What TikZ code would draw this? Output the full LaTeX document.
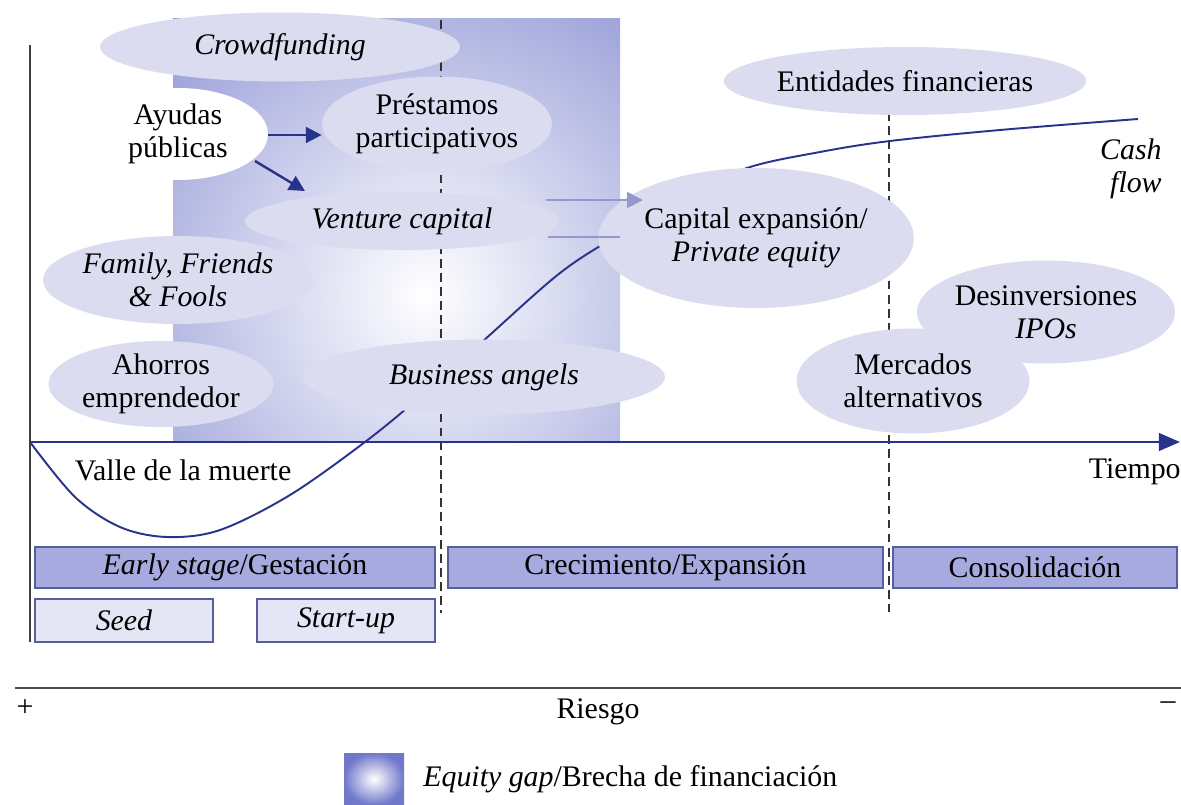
\documentclass[tikz,border=0pt]{standalone}
\usepackage{fontspec}
\setmainfont{Liberation Serif}
\usetikzlibrary{shapes.geometric,arrows.meta}
\definecolor{gapblue}{RGB}{112,120,201}
\definecolor{ellfill}{RGB}{219,220,239}
\definecolor{barfill}{RGB}{166,170,222}
\definecolor{barline}{RGB}{88,93,158}
\definecolor{seedfill}{RGB}{229,230,245}
\definecolor{navy}{RGB}{40,52,140}
\definecolor{faded}{RGB}{150,152,205}
\tikzset{
  ell/.style={ellipse, fill=ellfill, inner sep=0pt, align=center},
  wellip/.style={ellipse, fill=white, inner sep=0pt, align=center},
  stagebar/.style={rectangle, draw=barline, fill=barfill, line width=1pt, inner sep=0pt},
  subbar/.style={rectangle, draw=barline, fill=seedfill, line width=1pt, inner sep=0pt},
  navyarrow/.style={draw=navy, line width=1.4pt, -{Triangle[length=9pt,width=9pt]}},
  fadearrow/.style={draw=faded, line width=1pt},
  dashline/.style={dashed, dash pattern=on 5pt off 3pt, line width=0.6pt, black!80},
  txt/.style={inner sep=0pt, align=center},
}
\begin{document}
\begin{tikzpicture}[x=0.02cm, y=-0.02cm, every node/.style={font=\fontsize{17}{19}\selectfont}]
\useasboundingbox[fill=white] (0,0) rectangle (1181,805);

% equity gap square
\begin{scope}
  \clip (173,18) rectangle (620,442);
  \shade[inner color=white, outer color=gapblue] (425,295) circle (500);
\end{scope}

% dashed dividers
\coordinate (d1t) at (441,20);
\coordinate (d1b) at (441,613);
\coordinate (d2t) at (889,112);
\coordinate (d2b) at (889,612);
\draw[dashline] (d1t) -- (d1b);
\draw[dashline] (d2t) -- (d2b);

% cash flow curve
\draw[navy, line width=1.1pt] plot[smooth, tension=0.55] coordinates {(30,442) (75,497) (120,527) (167,537) (220,530) (290,495) (365,442) (420,397) (482,342) (560,273) (620,234) (680,199) (747,168) (820,152) (890,141) (1000,130) (1138,119)};

% axes
\coordinate (yt) at (30,45);
\coordinate (yb) at (30,642);
\draw[black!75, line width=1.1pt] (yt) -- (yb);
\coordinate (xo) at (30,442);
\coordinate (xe) at (1180,442);
\draw[navy, line width=1.4pt, -{Triangle[length=12pt,width=10pt]}] (xo) -- (xe);

% ellipses
\node[ell, minimum width=7.2cm, minimum height=1.38cm] (crowd) at (280,47) {\textit{Crowdfunding}};
\node[wellip, minimum width=3.6cm, minimum height=1.84cm] (ayudas) at (178,134) {Ayudas\\públicas};
\node[ell, minimum width=3.86cm, minimum height=1.9cm] (prest) at (437,124) {Préstamos\\participativos};
\node[ell, minimum width=6.28cm, minimum height=1.16cm] (vc) at (402,221) {\textit{Venture capital}};
\node[ell, minimum width=4.36cm, minimum height=1.76cm] (fff) at (178,280) {\textit{Family, Friends}\\\textit{\& Fools}};
\node[ell, minimum width=4.5cm, minimum height=1.72cm] (ahorros) at (161,384) {Ahorros\\emprendedor};
\node[ell, minimum width=7.24cm, minimum height=1.5cm] (ba) at (484,377) {\textit{Business angels}};
\node[ell, minimum width=7.08cm, minimum height=1.36cm] (ent) at (905,81) {Entidades financieras};
\node[ell, minimum width=5.04cm, minimum height=2.8cm] (cap) at (756,238) {Capital expansión/\\\textit{Private equity}};
\node[ell, minimum width=4.7cm, minimum height=2.06cm] (desinv) at (1046,312) {Desinversiones\\\textit{IPOs}};
\node[ell, minimum width=4.66cm, minimum height=2.1cm] (merc) at (913,381) {Mercados\\alternativos};

% arrows from Ayudas
\coordinate (a1s) at (268,135);
\coordinate (a2s) at (255,161);
\coordinate (a2e) at (305,191);
\draw[navyarrow] (a1s) -- (prest.west |- a1s);
\draw[navyarrow] (a2s) -- (a2e);

% faded arrows VC -> Capital
\coordinate (f1s) at (546,200);
\coordinate (f1e) at (643,200);
\coordinate (f2s) at (548,237);
\coordinate (f2e) at (620,237);
\draw[fadearrow, -{Triangle[length=9pt,width=9pt]}] (f1s) -- (f1e);
\draw[fadearrow] (f2s) -- (f2e);

% texts
\node[txt, anchor=east, align=right] (cash) at (1162,169) {\textit{Cash}\\\textit{flow}};
\node[txt] (valle) at (183,470) {Valle de la muerte};
\node[txt, anchor=east] (tiempo) at (1181,472) {Tiempo};

% stage bars
\node[stagebar, minimum width=8.0cm, minimum height=0.82cm] (early) at (235,567.5) {\textit{Early stage}/Gestación};
\node[stagebar, minimum width=8.7cm, minimum height=0.82cm] (crec) at (665.5,567.5) {Crecimiento/Expansión};
\node[stagebar, minimum width=5.68cm, minimum height=0.82cm] (consol) at (1035,567.5) {Consolidación};
\node[subbar, minimum width=3.56cm, minimum height=0.86cm] (seed) at (124,620.5) {\textit{Seed}};
\node[subbar, minimum width=3.56cm, minimum height=0.86cm] (startup) at (346,620.5) {\textit{Start-up}};

% risk line
\coordinate (rl) at (15,688);
\coordinate (rr) at (1181,688);
\draw[black!70, line width=1.4pt] (rl) -- (rr);
\node[txt] (plus) at (25,708) {+};
\node[txt] (riesgo) at (598,712) {Riesgo};
\node[txt] (minus) at (1168,706) {–};

% legend
\shade[inner color=white, outer color=gapblue] (344,753) rectangle (404,805);
\node[txt, anchor=west] (legend) at (423,779) {\textit{Equity gap}/Brecha de financiación};
\end{tikzpicture}
\end{document}
